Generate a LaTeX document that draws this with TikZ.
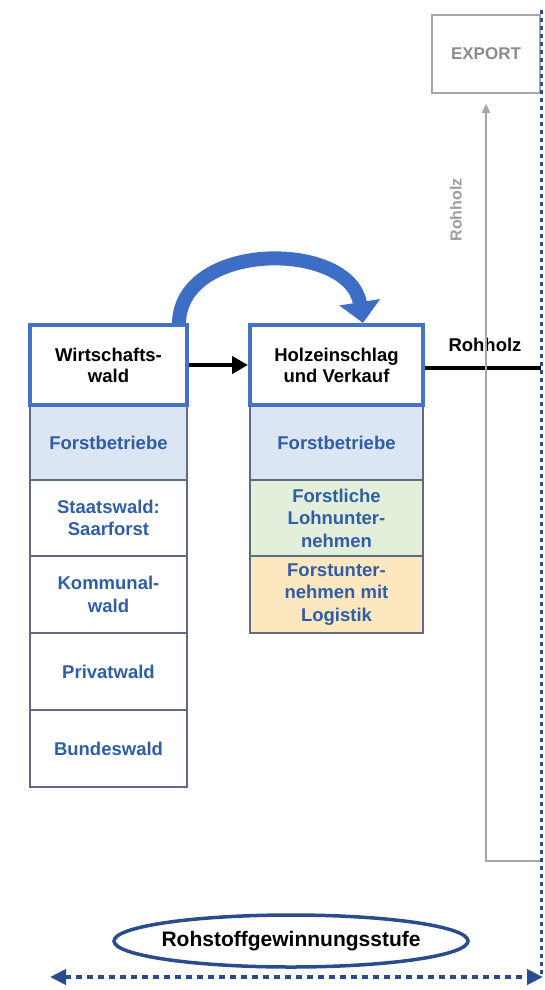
\documentclass[tikz,border=0pt]{standalone}
\usepackage{fontspec}
\setmainfont{Liberation Sans}
\usetikzlibrary{arrows.meta,shapes.geometric}
\definecolor{boxblue}{HTML}{4472C4}
\definecolor{arcblue}{HTML}{3E6DC6}
\definecolor{txtblue}{HTML}{2F5DA6}
\definecolor{cellline}{HTML}{5E6B86}
\definecolor{fillblue}{HTML}{DCE5F3}
\definecolor{fillgreen}{HTML}{E3EFDA}
\definecolor{fillorange}{HTML}{FDE7BF}
\definecolor{navy}{HTML}{2B4C8C}
\definecolor{grayline}{HTML}{A6A6A6}
\definecolor{graytxt}{HTML}{8C8C8C}
\begin{document}
\begin{tikzpicture}[x=1pt,y=-1pt,
  topbox/.style={draw=boxblue, line width=4pt, fill=white, inner sep=0pt, align=center,
    font=\fontsize{18.5}{21}\selectfont\bfseries, text=black, minimum height=80pt},
  cell/.style={draw=cellline, line width=1.5pt, inner sep=0pt, align=center,
    font=\fontsize{18.5}{22.5}\selectfont\bfseries, text=txtblue},
  leftw/.style={minimum width=157pt},
  midw/.style={minimum width=173pt},
  graybox/.style={draw=grayline, line width=1.5pt, inner sep=0pt, minimum width=108pt,
    minimum height=78pt, text=graytxt, font=\fontsize{17}{20}\selectfont\bfseries},
  flowlabel/.style={font=\fontsize{18.5}{21}\selectfont\bfseries, text=black, inner sep=0pt},
  graylabel/.style={font=\fontsize{16}{19}\selectfont\bfseries, text=graytxt!85, inner sep=0pt},
  stagebox/.style={ellipse, draw=navy, line width=3.5pt, minimum width=354pt, minimum height=52pt,
    inner sep=0pt, font=\fontsize{21}{24}\selectfont\bfseries, text=black},
  dotline/.style={navy, line width=3pt, dash pattern=on 4pt off 4pt}
]
\useasboundingbox (0,0) rectangle (544,990);

% left column cells
\node[cell,leftw,fill=fillblue,minimum height=75pt] (l1) at (108.5,442.5) {Forstbetriebe};
\node[cell,leftw,minimum height=76pt] (l2) at (108.5,518) {Staatswald:\\Saarforst};
\node[cell,leftw,minimum height=77pt] (l3) at (108.5,594.5) {Kommunal-\\wald};
\node[cell,leftw,minimum height=77pt] (l4) at (108.5,671.5) {Privatwald};
\node[cell,leftw,minimum height=77pt] (l5) at (108.5,748.5) {Bundeswald};

% middle column cells
\node[cell,midw,fill=fillblue,minimum height=75pt] (m1) at (336.5,442.5) {Forstbetriebe};
\node[cell,midw,fill=fillgreen,minimum height=76pt] (m2) at (336.5,518) {Forstliche\\Lohnunter-\\nehmen};
\node[cell,midw,fill=fillorange,minimum height=77pt] (m3) at (336.5,594.5) {Forstunter-\\nehmen mit\\Logistik};

% curved arrow (drawn before top boxes)
\node[topbox,leftw,draw=none,fill=none] (wald0) at (108.5,365) {};
\node[topbox,midw,draw=none,fill=none] (holz0) at (336.5,365) {};
\draw[arcblue, line width=14pt, -{Triangle[length=21pt,width=40pt]}]
  ([xshift=70.5pt,yshift=-3pt]wald0.north) .. controls (177,240) and (350,240) .. ([xshift=26.5pt]holz0.north);

% top boxes
\node[topbox,leftw] (wald) at (108.5,365) {Wirtschafts-\\wald};
\node[topbox,midw] (holz) at (336.5,365) {Holzeinschlag\\und Verkauf};

\draw[line width=4pt, -{Triangle[length=16pt,width=17pt]}] (wald.east) -- (holz.west);

% Rohholz flow
\coordinate (rr) at (541,368);
\draw[line width=4pt] ([yshift=-3pt]holz.east) -- (rr);
\node[flowlabel] (rlab) at (485,345) {Rohholz};

% export
\node[graybox] (export) at (486,54) {EXPORT};
\coordinate (g1) at (486,861);
\coordinate (g2) at (541,861);
\draw[grayline, line width=1.5pt, -{Triangle[length=9pt,width=8pt]}]
  (g2) -- (g1) -- ([yshift=-10pt]export.south);
\node[graylabel, rotate=90] (rlab2) at (456,210) {Rohholz};

% dotted vertical boundary
\coordinate (vt) at (541,10);
\coordinate (vb) at (541,975);
\draw[dotline] (vt) -- (vb);

% stage
\node[stagebox] (stage) at (291,941) {\makebox[0pt]{Rohstoffgewinnungsstufe}};
\coordinate (hl) at (50,977);
\coordinate (hr) at (543,977);
\draw[navy, line width=4pt, dash pattern=on 6pt off 5pt,
  {Triangle[length=16pt,width=15pt]}-{Triangle[length=16pt,width=15pt]}] (hl) -- (hr);
\end{tikzpicture}
\end{document}
